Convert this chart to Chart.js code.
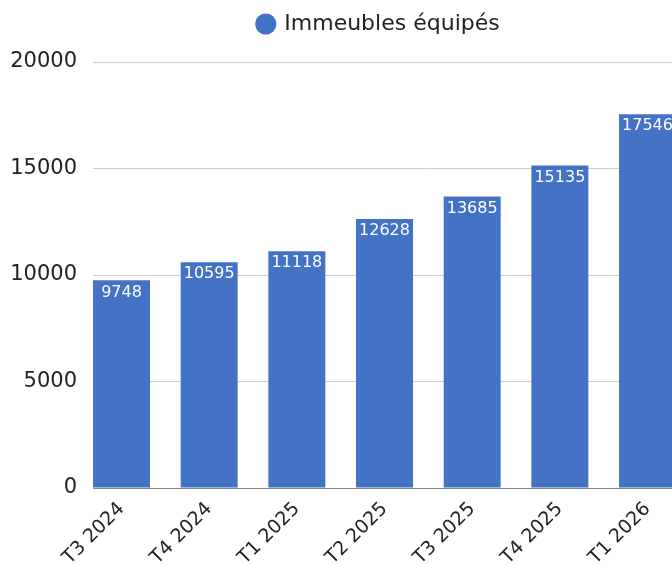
<!DOCTYPE html>
<html>
<head>
<meta charset="utf-8">
<script src="https://cdn.jsdelivr.net/npm/chart.js@4.4.1/dist/chart.umd.min.js"></script>
<style>
  html, body { margin: 0; padding: 0; overflow: hidden; background: #fff; }
  #wrap { width: 758px; height: 565px; position: relative; }
</style>
</head>
<body>
<div id="wrap"><canvas id="chart"></canvas></div>
<script>
const categories = ['T3 2024', 'T4 2024', 'T1 2025', 'T2 2025', 'T3 2025', 'T4 2025', 'T1 2026'];
const immeubles = [9748, 10595, 11118, 12628, 13685, 15135, 17546];
const seriesName = 'Immeubles équipés';

const FONT = "'DejaVu Sans', sans-serif";
const BLUE = '#4472C4';

// white value labels at the top of each bar
const barLabels = {
  id: 'barLabels',
  afterDatasetsDraw(chart) {
    const ctx = chart.ctx;
    const meta = chart.getDatasetMeta(0);
    ctx.save();
    ctx.fillStyle = '#fff';
    ctx.font = '16px ' + FONT;
    ctx.textAlign = 'center';
    ctx.textBaseline = 'top';
    meta.data.forEach((bar, i) => {
      ctx.fillText(String(immeubles[i]), bar.x, bar.y + 4);
    });
    ctx.restore();
  }
};

const ctx = document.getElementById('chart').getContext('2d');
new Chart(ctx, {
  type: 'bar',
  data: {
    datasets: [{
      label: seriesName,
      data: immeubles.map((v, i) => ({ x: i, y: v })),
      backgroundColor: BLUE,
      borderWidth: 0,
      categoryPercentage: 1,
      barPercentage: 0.65
    }]
  },
  options: {
    responsive: true,
    maintainAspectRatio: false,
    animation: false,
    layout: { padding: { top: -14, left: 0, right: 0, bottom: 0 } },
    plugins: {
      legend: {
        position: 'top',
        labels: {
          usePointStyle: true,
          pointStyle: 'circle',
          boxWidth: 15,
          boxHeight: 15,
          padding: 27,
          color: '#222',
          font: { family: FONT, size: 22 }
        }
      },
      // empty spacer between legend and plot
      title: {
        display: true,
        text: '',
        position: 'top',
        weight: 500,
        padding: 0,
        font: { size: 10, lineHeight: 1.7 }
      },
      tooltip: { enabled: false }
    },
    scales: {
      x: {
        type: 'linear',
        offset: false,
        bounds: 'data',
        min: -0.325,
        max: 7.26,
        afterBuildTicks(scale) {
          scale.ticks = categories.map((_, i) => ({ value: i }));
        },
        afterFit(scale) { scale.height = 77; },
        grid: { display: false, drawTicks: false },
        border: { display: true, color: '#888', width: 1 },
        ticks: {
          autoSkip: false,
          minRotation: 45,
          maxRotation: 45,
          padding: 10,
          color: '#222',
          font: { family: FONT, size: 19 },
          callback: (v) => categories[v]
        }
      },
      y: {
        min: 0,
        max: 20000,
        afterFit(scale) { scale.width = 93; },
        grid: { color: '#cccccc', lineWidth: 1, drawTicks: false },
        border: { display: false },
        ticks: {
          stepSize: 5000,
          padding: 16,
          color: '#222',
          font: { family: FONT, size: 21 },
          callback: (v) => String(v)
        }
      }
    }
  },
  plugins: [barLabels]
});
</script>
</body>
</html>
